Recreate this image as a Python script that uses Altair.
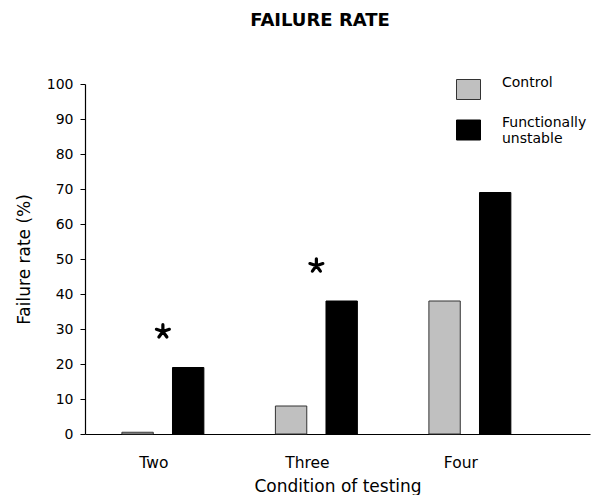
import altair as alt
import pandas as pd

conditions = ["Two", "Three", "Four"]
groups = ["Control", "Functionally unstable"]
control_rate = [0.5, 8, 38]
unstable_rate = [19, 38, 69]
star_conditions = ["Two", "Three"]
star_height = [29.3, 48.1]
y_ticks = [0, 10, 20, 30, 40, 50, 60, 70, 80, 90, 100]

rows = []
for c, a, b in zip(conditions, control_rate, unstable_rate):
    rows.append({"Condition": c, "Group": groups[0], "Rate": a})
    rows.append({"Condition": c, "Group": groups[1], "Rate": b})
df = pd.DataFrame(rows)
stars = pd.DataFrame({"Condition": star_conditions, "Height": star_height})

FONT = "DejaVu Sans"
ASTERISK = ("M0,0L0,-1M0,0L0.951,-0.309M0,0L0.588,0.809"
            "M0,0L-0.588,0.809M0,0L-0.951,-0.309")
LEGEND_BOX = "M-1.2,-0.7L1.2,-0.7L1.2,1.3L-1.2,1.3Z"

xscale = alt.Scale(domain=conditions, paddingInner=0.466, paddingOuter=0.378, align=0.318)
yscale = alt.Scale(domain=[0, 100], nice=False)

x_axis = alt.Axis(
    title="Condition of testing", ticks=False, tickSize=0, labelAngle=0,
    labelPadding=21, labelOffset=-9, labelFont=FONT, labelFontSize=15.5,
    labelColor="black", titleFont=FONT, titleFontSize=17, titleFontWeight="normal",
    titleColor="black", titlePadding=8, domainColor="black", domainWidth=1.2,
    grid=False,
)
y_axis = alt.Axis(
    title="Failure rate (%)", values=y_ticks, grid=False, tickSize=5,
    tickColor="black", labelPadding=7, labelFont=FONT, labelFontSize=14,
    labelColor="black", titleFont=FONT, titleFontSize=17, titleFontWeight="normal",
    titleColor="black", titlePadding=13, domainColor="black", domainWidth=1.2,
    labelOverlap=False,
)

bars = alt.Chart(df).mark_bar(strokeWidth=1).encode(
    x=alt.X("Condition:N", scale=xscale, sort=conditions, axis=x_axis),
    xOffset=alt.XOffset("Group:N", sort=groups,
                        scale=alt.Scale(domain=groups, paddingInner=0.38, paddingOuter=0)),
    y=alt.Y("Rate:Q", scale=yscale, axis=y_axis),
    fill=alt.Fill(
        "Group:N", sort=groups,
        scale=alt.Scale(domain=groups, range=["#c0c0c0", "#000000"]),
        legend=alt.Legend(
            title=None, orient="none", legendX=373, legendY=-8, padding=0,
            symbolType=LEGEND_BOX, symbolSize=400, symbolStrokeColor="#333333",
            symbolStrokeWidth=1, symbolOpacity=1, labelFont=FONT, labelFontSize=14,
            labelColor="black", labelBaseline="alphabetic", labelOffset=23,
            rowPadding=13.5, labelLimit=200,
            labelExpr="datum.label == 'Functionally unstable' ? ['Functionally', 'unstable'] : datum.label",
        ),
    ),
    stroke=alt.Stroke(
        "Group:N", sort=groups,
        scale=alt.Scale(domain=groups, range=["#333333", "#000000"]),
        legend=None,
    ),
)

star_marks = alt.Chart(stars).mark_point(
    shape=ASTERISK, filled=False, size=185, strokeWidth=3.2, color="black",
    strokeCap="round", opacity=1,
).encode(
    x=alt.X("Condition:N", sort=conditions, scale=xscale, axis=x_axis),
    y=alt.Y("Height:Q", scale=yscale, axis=y_axis),
)

chart = alt.layer(bars, star_marks).properties(
    width=505,
    height=350,
    background="white",
    title=alt.TitleParams(
        "FAILURE RATE", font=FONT, fontSize=18, fontWeight="bold", color="black",
        anchor="middle", dx=-17.5, offset=28, baseline="bottom",
    ),
    autosize=alt.AutoSizeParams(type="none"),
    padding={"left": 77, "top": 76, "right": 3, "bottom": 61},
).configure_view(strokeWidth=0)

chart.save("out.html", embed_options={"renderer": "svg", "actions": False})
